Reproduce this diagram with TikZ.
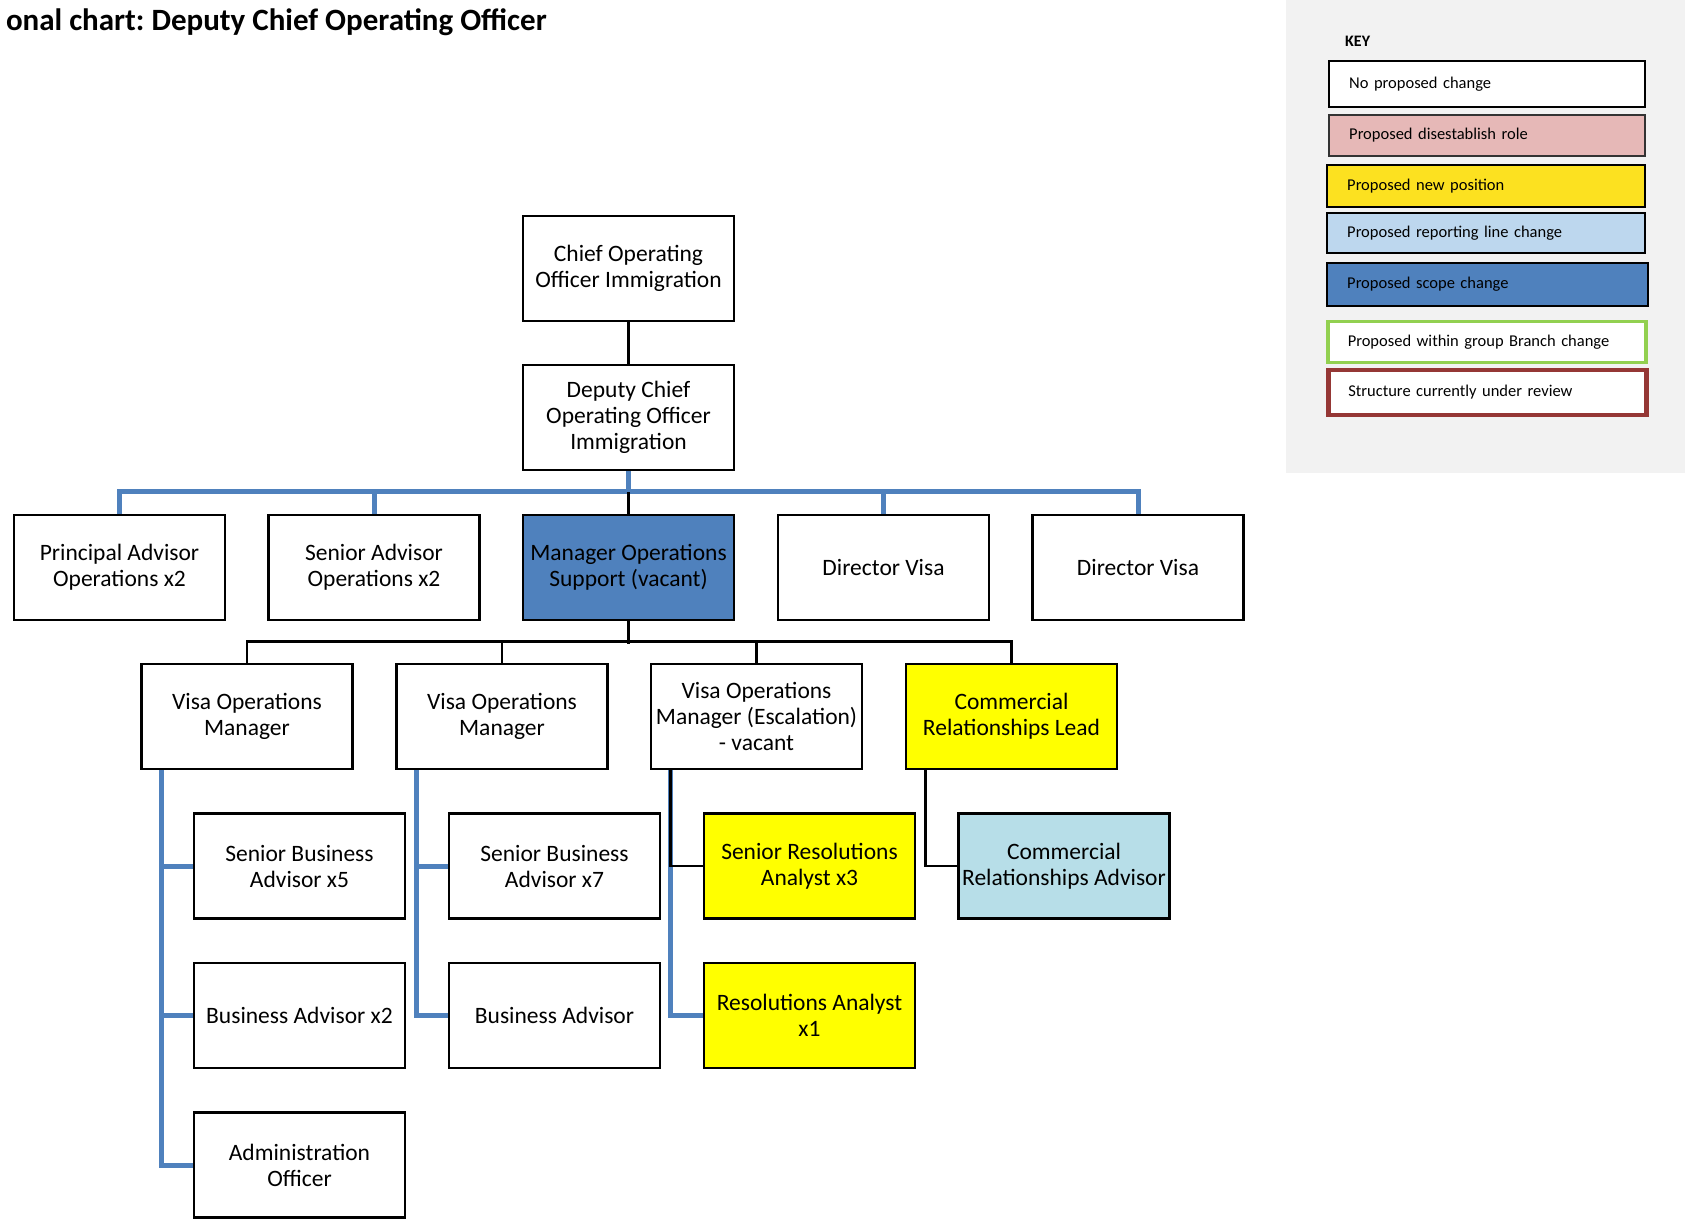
\documentclass[tikz,border=0pt]{standalone}
\usepackage{fontspec}
\setmainfont{Carlito}
\frenchspacing
\definecolor{linkblue}{RGB}{79,129,189}
\definecolor{scopeblue}{RGB}{79,129,189}
\definecolor{newyellow}{RGB}{255,255,0}
\definecolor{lineblue}{RGB}{183,222,232}
\definecolor{keygrey}{RGB}{242,242,242}
\definecolor{keypink}{RGB}{230,184,183}
\definecolor{keyyellow}{RGB}{252,225,32}
\definecolor{keylightblue}{RGB}{189,215,238}
\definecolor{keygreen}{RGB}{146,208,80}
\definecolor{keyred}{RGB}{149,55,53}
\begin{document}
\begin{tikzpicture}[x=1pt,y=-1pt,
  role/.style={draw, line width=2.4pt, minimum width=211pt, minimum height=105pt,
    inner sep=0pt, align=center, font=\fontsize{23.5}{26}\selectfont},
  newpos/.style={role, fill=newyellow},
  reportchange/.style={role, fill=lineblue},
  scopechange/.style={role, fill=scopeblue},
  bluelink/.style={draw=linkblue, line width=5pt},
  blacklink/.style={draw=black, line width=2.8pt},
  keybox/.style={draw, line width=2.4pt, minimum height=42pt, text width=276pt,
    inner xsep=20pt, inner ysep=0pt, align=left, anchor=west,
    font=\fontsize{16.5}{18}\selectfont},
]
\useasboundingbox (0,0) rectangle (1685,1223);

% title
\node[anchor=base east, inner sep=0pt, font=\fontsize{31}{33}\selectfont\bfseries] (title)
  at (547,31) {onal chart: Deputy Chief Operating Officer};

% key panel
\fill[keygrey] (1286,0) rectangle (1685,473);
\node[anchor=base west, inner sep=0pt, font=\fontsize{16}{18}\selectfont\bfseries] (keyhead)
  at (1345,47) {KEY};
\node[keybox, fill=white, minimum height=46pt] (k1) at (1328,84) {No proposed change};
\node[keybox, fill=keypink, draw=black!80, minimum height=41pt] (k2) at (1328,135.5) {Proposed disestablish role};
\node[keybox, fill=keyyellow, minimum height=42pt, text width=278pt] (k3) at (1326,186) {Proposed new position};
\node[keybox, fill=keylightblue, minimum height=40pt, text width=278pt] (k4) at (1326,233) {Proposed reporting line change};
\node[keybox, fill=scopeblue, minimum height=43pt, text width=281pt] (k5) at (1326,284.5) {Proposed scope change};
\node[keybox, fill=white, draw=keygreen, line width=3.5pt, minimum height=41pt, text width=278pt] (k6) at (1326,342) {Proposed within group Branch change};
\node[keybox, fill=white, draw=keyred, line width=4.5pt, minimum height=45pt, text width=278pt] (k7) at (1326,392.5) {Structure currently under review};

% level 1 and 2
\node[role] (coo) at (628.5,268.5) {Chief Operating\\Officer Immigration};
\node[role] (dep) at (628.5,417.5) {Deputy Chief\\Operating Officer\\Immigration};

% level 3
\node[role] (pao) at (119.5,567.5) {Principal Advisor\\Operations x2};
\node[role] (sao) at (374,567.5) {Senior Advisor\\Operations x2};
\node[scopechange] (mos) at (628.5,567.5) {Manager Operations\\Support (vacant)};
\node[role] (dv1) at (883.5,567.5) {Director Visa};
\node[role] (dv2) at (1138,567.5) {Director Visa};

% level 4
\node[role] (vom1) at (247,716.5) {Visa Operations\\Manager};
\node[role] (vom2) at (502,716.5) {Visa Operations\\Manager};
\node[role] (vome) at (756.5,716.5) {Visa Operations\\Manager (Escalation)\\- vacant};
\node[newpos] (crl) at (1011.5,716.5) {Commercial\\Relationships Lead};

% level 5 and below
\node[role] (sba5) at (299.5,866) {Senior Business\\Advisor x5};
\node[role] (ba2) at (299.5,1015.5) {Business Advisor x2};
\node[role] (adm) at (299.5,1165) {Administration\\Officer};
\node[role] (sba7) at (554.5,866) {Senior Business\\Advisor x7};
\node[role] (ba1) at (554.5,1015.5) {Business Advisor};
\node[newpos] (sra) at (809.5,866) {Senior Resolutions\\Analyst x3};
\node[newpos] (ra) at (809.5,1015.5) {Resolutions Analyst\\x1};
\node[reportchange] (cra) at (1064,866) {Commercial\\Relationships Advisor};

% connectors: top
\draw[blacklink] (coo) -- (dep);
\draw[bluelink] (dep.south) -- ++(0,23);
\draw[bluelink] (pao.north) -- ++(0,-22) -| (dv2.north);
\draw[bluelink] (sao.north) -- ++(0,-22);
\draw[bluelink] (dv1.north) -- ++(0,-22);
\draw[blacklink] (mos.north) -- ++(0,-22);

% connectors: manager operations support
\draw[blacklink] (mos.south) -- ++(0,23);
\draw[blacklink] (vom1.north) -- ++(0,-21) -| (crl.north);
\draw[blacklink] (vom2.north) -- ++(0,-21);
\draw[blacklink] (vome.north) -- ++(0,-21);

% connectors: team members
\coordinate (t1) at ([xshift=21pt]vom1.south west);
\coordinate (t2) at ([xshift=21pt]vom2.south west);
\coordinate (t3) at ([xshift=21pt]vome.south west);
\coordinate (t4) at ([xshift=21pt]crl.south west);
\draw[bluelink] (t1) |- (adm.west);
\draw[bluelink] (t1 |- sba5.west) -- (sba5.west);
\draw[bluelink] (t1 |- ba2.west) -- (ba2.west);
\draw[bluelink] (t2) |- (ba1.west);
\draw[bluelink] (t2 |- sba7.west) -- (sba7.west);
\draw[bluelink] (t3) |- (ra.west);
\draw[blacklink] (t3) |- (sra.west);
\draw[blacklink] (t4) |- (cra.west);
\end{tikzpicture}
\end{document}
